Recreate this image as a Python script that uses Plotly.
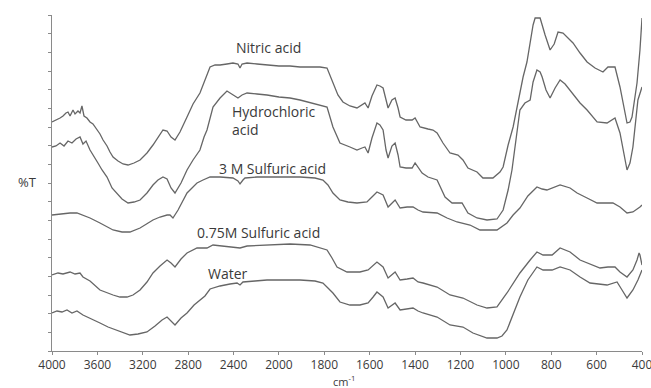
import plotly.graph_objects as go

# Wavenumber (cm-1) / offset transmittance pairs for each treatment
nitric_wn = [4000, 3956, 3929, 3903, 3877, 3859, 3841, 3815, 3797, 3771, 3753, 3736, 3718, 3692, 3665,
             3639, 3603, 3577, 3550, 3515, 3489, 3462, 3418, 3374, 3330, 3277, 3224, 3163, 3110, 3066,
             3022, 2986, 2951, 2916, 2872, 2810, 2757, 2696, 2652, 2607, 2563, 2519, 2458, 2405, 2361,
             2343, 2325, 2281, 2193, 2105, 2000, 1951, 1907, 1863, 1819, 1788, 1762, 1740, 1718, 1687,
             1656, 1634, 1621, 1607, 1590, 1568, 1555, 1541, 1519, 1502, 1488, 1475, 1466, 1440, 1413,
             1400, 1378, 1343, 1321, 1303, 1277, 1246, 1211, 1189, 1167, 1127, 1101, 1057, 1026, 1012,
             990, 968, 946, 924, 907, 893, 880, 871, 849, 827, 805, 787, 770, 748, 730, 704, 673, 642,
             607, 572, 550, 519, 497, 479, 466, 453, 444, 422, 409, 400]
nitric_t = [229, 231, 233, 235, 238, 239, 235, 241, 237, 240, 238, 245, 235, 233, 229,
            227, 221, 217, 211, 205, 199, 194, 190, 187, 186, 188, 191, 198, 206, 214,
            221, 220, 214, 211, 219, 234, 247, 258, 271, 284, 286, 286, 287, 288, 287,
            283, 287, 288, 287, 286, 285, 285, 284, 284, 284, 283, 268, 256, 249, 245,
            243, 246, 248, 243, 255, 266, 265, 263, 243, 251, 253, 243, 234, 231, 231,
            233, 224, 222, 221, 218, 208, 198, 196, 191, 183, 179, 173, 173, 179, 184,
            206, 224, 251, 274, 289, 308, 326, 333, 333, 316, 301, 307, 319, 318, 314, 308, 298, 289,
            283, 279, 284, 284, 264, 243, 228, 229, 234, 268, 301, 333]

hcl_wn = [4000, 3965, 3929, 3894, 3859, 3824, 3788, 3753, 3727, 3700, 3665, 3630, 3595, 3559, 3515,
          3471, 3427, 3383, 3330, 3277, 3224, 3163, 3110, 3066, 3022, 2986, 2951, 2916, 2863, 2810,
          2757, 2696, 2660, 2634, 2581, 2519, 2458, 2405, 2361, 2325, 2281, 2193, 2105, 2000, 1951,
          1907, 1841, 1788, 1762, 1731, 1687, 1656, 1634, 1621, 1607, 1590, 1568, 1555, 1541, 1528,
          1519, 1502, 1488, 1475, 1466, 1440, 1413, 1400, 1369, 1343, 1303, 1268, 1237, 1193, 1167,
          1127, 1083, 1039, 1012, 990, 973, 955, 938, 916, 893, 880, 863, 849, 840, 823, 805, 783,
          761, 739, 717, 673, 642, 598, 554, 519, 497, 479, 466, 453, 440, 418, 400]
hcl_t = [204, 205, 208, 205, 210, 208, 212, 214, 207, 210, 201, 195, 188, 181, 174,
         163, 158, 152, 148, 149, 151, 158, 166, 171, 174, 172, 163, 158, 168, 181,
         191, 201, 214, 221, 244, 253, 260, 256, 253, 256, 258, 257, 256, 254, 253,
         251, 247, 244, 224, 208, 204, 201, 203, 204, 198, 213, 228, 226, 221, 201,
         193, 205, 208, 196, 184, 183, 183, 188, 178, 174, 171, 154, 148, 148, 138,
         133, 131, 132, 141, 161, 181, 211, 241, 248, 251, 269, 281, 279, 274, 261, 253, 263,
         271, 267, 261, 248, 241, 229, 228, 233, 218, 196, 181, 188, 204, 251, 264]

h2so4_3m_wn = [4000, 3929, 3841, 3780, 3727, 3665, 3577, 3515, 3462, 3383, 3313, 3224, 3163, 3110, 3048,
               2986, 2960, 2934, 2889, 2810, 2766, 2722, 2669, 2607, 2519, 2405, 2361, 2343, 2317, 2299,
               2193, 2105, 2000, 1907, 1841, 1806, 1784, 1762, 1731, 1696, 1656, 1612, 1590, 1568, 1541,
               1519, 1488, 1466, 1435, 1409, 1387, 1365, 1303, 1259, 1215, 1158, 1114, 1039, 995, 968,
               938, 903, 863, 840, 819, 792, 761, 717, 686, 642, 598, 528, 497, 466, 440, 409, 400]
h2so4_3m_t = [136, 137, 138, 138, 136, 133, 128, 124, 121, 119, 119, 123, 127, 131, 134,
              136, 136, 133, 141, 158, 163, 168, 171, 174, 174, 173, 170, 167, 171, 173,
              174, 174, 174, 174, 173, 171, 166, 158, 151, 149, 148, 149, 154, 159, 156,
              144, 151, 143, 144, 144, 141, 139, 138, 133, 129, 126, 121, 121, 128, 136,
              143, 155, 164, 162, 161, 163, 166, 163, 158, 153, 148, 148, 144, 138, 139, 144, 146]

h2so4_075m_wn = [4000, 3947, 3903, 3841, 3797, 3753, 3727, 3665, 3577, 3515, 3462, 3401, 3339, 3286, 3224,
                 3163, 3110, 3048, 2986, 2951, 2916, 2863, 2810, 2722, 2634, 2581, 2502, 2405, 2343, 2281,
                 2105, 2000, 1951, 1863, 1788, 1766, 1744, 1700, 1643, 1607, 1585, 1568, 1541, 1519, 1488,
                 1466, 1435, 1409, 1387, 1365, 1303, 1246, 1189, 1127, 1083, 1039, 995, 938, 893, 863,
                 836, 796, 761, 717, 673, 642, 585, 550, 519, 497, 466, 440, 422, 413, 409, 400]
h2so4_075m_t = [76, 78, 77, 79, 77, 78, 74, 70, 61, 58, 56, 54, 54, 56, 61,
                69, 78, 85, 91, 88, 84, 92, 98, 103, 103, 106, 105, 104, 103, 105,
                106, 107, 107, 106, 101, 93, 84, 79, 79, 81, 85, 89, 84, 73, 79,
                71, 72, 73, 69, 68, 64, 56, 53, 46, 43, 44, 58, 78, 91, 99,
                96, 96, 103, 99, 91, 88, 83, 84, 84, 79, 74, 81, 91, 98, 96, 86]

water_wn = [4000, 3956, 3912, 3868, 3824, 3780, 3727, 3665, 3577, 3506, 3427, 3365, 3313, 3242, 3163,
            3092, 3030, 2986, 2951, 2916, 2863, 2810, 2748, 2696, 2652, 2607, 2519, 2431, 2369, 2343,
            2317, 2211, 2105, 2000, 1907, 1841, 1806, 1784, 1762, 1731, 1687, 1643, 1607, 1585, 1568,
            1541, 1519, 1488, 1466, 1409, 1387, 1365, 1303, 1246, 1189, 1145, 1083, 1039, 1017, 995,
            968, 938, 903, 863, 836, 796, 761, 717, 673, 629, 554, 510, 488, 466, 440, 418, 400]
water_t = [38, 40, 39, 41, 38, 40, 36, 33, 28, 24, 21, 18, 16, 17, 19,
           25, 31, 34, 30, 26, 33, 38, 46, 51, 55, 62, 65, 67, 68, 66,
           69, 70, 71, 71, 71, 70, 68, 63, 58, 49, 46, 46, 48, 54, 59,
           54, 43, 48, 41, 43, 40, 38, 34, 26, 24, 18, 13, 13, 15, 21,
           36, 54, 71, 84, 81, 81, 84, 81, 74, 68, 66, 69, 61, 53, 61, 71, 81]

series = [
    ("Nitric acid", nitric_wn, nitric_t),
    ("Hydrochloric acid", hcl_wn, hcl_t),
    ("3 M Sulfuric acid", h2so4_3m_wn, h2so4_3m_t),
    ("0.75M Sulfuric acid", h2so4_075m_wn, h2so4_075m_t),
    ("Water", water_wn, water_t),
]

tick_labels = [4000, 3600, 3200, 2800, 2400, 2000, 1800, 1600, 1400, 1200, 1000, 800, 600, 400]

BREAK = 2000  # above this wavenumber the axis is compressed by half


def axis_pos(wn):
    """Map a wavenumber onto the split axis (half scale above 2000 cm-1)."""
    return wn if wn <= BREAK else BREAK + (wn - BREAK) / 2


LINE = "#666666"
TEXT = "#3a3a3a"
FONT = "Open Sans"

fig = go.Figure()
for name, wn, t in series:
    fig.add_trace(go.Scatter(
        x=[axis_pos(w) for w in wn], y=t, mode="lines", name=name,
        line=dict(color=LINE, width=1.3), showlegend=False,
    ))

fig.update_layout(
    width=651, height=388,
    margin=dict(l=52, r=9, t=15, b=37, autoexpand=False),
    paper_bgcolor="white", plot_bgcolor="white",
    font=dict(family=FONT, size=12, color=TEXT),
    xaxis=dict(
        range=[axis_pos(4000), axis_pos(400)],
        tickvals=[axis_pos(v) for v in tick_labels],
        ticktext=[str(v) for v in tick_labels],
        ticklabeloverflow="allow", automargin=False,
        showline=True, linecolor="#8a8a8a", linewidth=1,
        ticks="outside", ticklen=3, tickcolor="#8a8a8a",
        showgrid=False, zeroline=False,
        tickfont=dict(size=12, color=TEXT),
    ),
    yaxis=dict(
        range=[0, 336], showticklabels=False, automargin=False,
        tick0=0, dtick=336 / 18,
        showline=True, linecolor="#8a8a8a", linewidth=1,
        ticks="outside", ticklen=3, tickcolor="#8a8a8a",
        showgrid=False, zeroline=False,
    ),
)

labels = [
    ("Nitric acid", 2048, 304, "center"),
    ("Hydrochloric<br>acid", 2216, 231, "left"),
    ("3 M Sulfuric acid", 2030, 183, "center"),
    ("0.75M Sulfuric acid", 2092, 119, "center"),
    ("Water", 2224, 78, "center"),
]
for text, x, y, anchor in labels:
    fig.add_annotation(x=x, y=y, text=text, showarrow=False, xanchor=anchor, align="left",
                       font=dict(family=FONT, size=14, color=TEXT))

fig.add_annotation(xref="paper", yref="paper", x=-0.042, y=0.503, text="%T", showarrow=False,
                   xanchor="center", font=dict(family=FONT, size=13, color=TEXT))
fig.add_annotation(xref="paper", yref="paper", x=0.495, y=-0.116, text="cm<sup>-1</sup>",
                   showarrow=False, xanchor="center", yanchor="bottom", borderpad=0,
                   font=dict(family=FONT, size=11, color=TEXT))

fig.write_html("out.html")
